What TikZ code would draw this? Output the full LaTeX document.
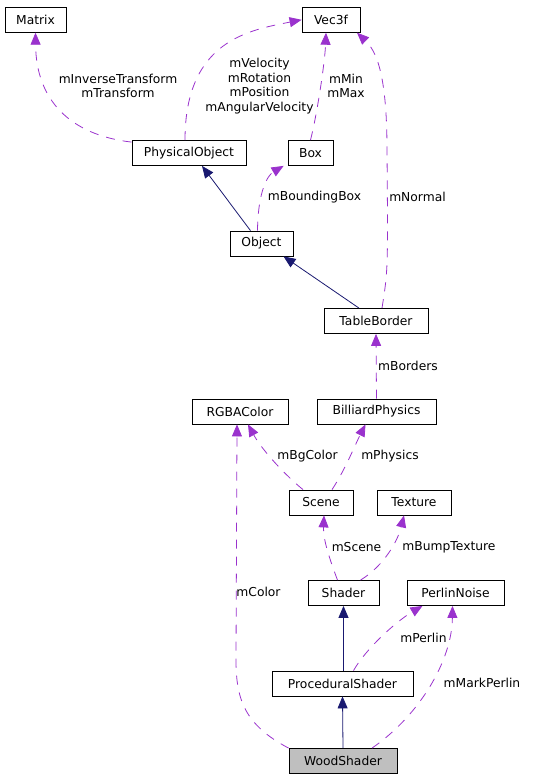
\documentclass[tikz,border=0pt]{standalone}
\usepackage{fontspec}
\setmainfont{DejaVu Sans}
\usetikzlibrary{arrows.meta}
\definecolor{usecolor}{HTML}{9A32CD}
\definecolor{inheritcolor}{HTML}{191970}

\begin{document}
\begin{tikzpicture}[
    x=1pt, y=-1pt,
    classnode/.style={rectangle, draw=black, fill=white, thick, minimum height=25pt, inner sep=0pt, font=\fontsize{12.3}{14}\selectfont},
    mainnode/.style={classnode, fill=black!25},
    uselink/.style={draw=usecolor, thick, dash pattern=on 9pt off 8pt, -{Triangle[length=12pt, width=10pt, fill=usecolor]}},
    inheritlink/.style={draw=inheritcolor, thick, -{Triangle[length=12pt, width=10pt, fill=inheritcolor]}},
    labelnode/.style={align=center, inner sep=0pt, font=\fontsize{12.3}{14.5}\selectfont},
    ]
      \useasboundingbox (0,0) rectangle (552,779);

      %Nodes
      \node      (Matrix)     [classnode, minimum width=61pt]   at (35.5,19.8)  {Matrix};
      \node      (Vec3f)      [classnode, minimum width=58pt]   at (331,19.8)   {Vec3f};
      \node      (PhysObj)    [classnode, minimum width=114pt]  at (189,153)    {PhysicalObject};
      \node      (Box)        [classnode, minimum width=45pt]   at (310.5,153)  {Box};
      \node      (Object)     [classnode, minimum width=63pt]   at (261.5,243.5) {Object};
      \node      (TableB)     [classnode, minimum width=104pt]  at (376,321)    {TableBorder};
      \node      (RGBA)       [classnode, minimum width=96pt]   at (240,411.5)  {RGBAColor};
      \node      (Billiard)   [classnode, minimum width=119pt]  at (376.5,411.5) {BilliardPhysics};
      \node      (Scene)      [classnode, minimum width=64pt]   at (321,502.5)  {Scene};
      \node      (Texture)    [classnode, minimum width=74pt]   at (414,502.5)  {Texture};
      \node      (Shader)     [classnode, minimum width=71pt]   at (343.5,593)  {Shader};
      \node      (Perlin)     [classnode, minimum width=97pt]   at (455.5,593)  {PerlinNoise};
      \node      (ProcShader) [classnode, minimum width=141pt]  at (342.5,683.5) {ProceduralShader};
      \node      (Wood)       [mainnode, minimum width=108pt]   at (343,761)    {WoodShader};

      %Lines
      \draw[uselink] ([yshift=-2pt]PhysObj.north west) .. controls (70,135) and (36,100) .. (Matrix.south);
      \draw[uselink] ([xshift=-4pt]PhysObj.north) .. controls (185,40) and (250,30) .. (Vec3f.west);
      \draw[uselink] (Box.north) .. controls (318,110) and (325,60) .. ([xshift=-5pt]Vec3f.south);
      \draw[uselink] ([xshift=6pt]TableB.north) .. controls (388,270) .. (387,150) .. controls (387,70) and (375,50) .. ([xshift=26pt]Vec3f.south);
      \draw[uselink] ([xshift=-4pt]Object.north) .. controls (258,190) and (268,175) .. ([xshift=-4pt]Box.south west);
      \draw[inheritlink] ([xshift=-11pt]Object.north) -- ([xshift=13pt]PhysObj.south);
      \draw[inheritlink] ([xshift=-17pt]TableB.north) -- ([xshift=22pt]Object.south);
      \draw[uselink] (Billiard.north) -- (TableB.south);
      \draw[uselink] ([xshift=-18pt]Scene.north) .. controls (285,475) and (262,450) .. ([xshift=8pt]RGBA.south);
      \draw[uselink] ([xshift=11pt]Scene.north) .. controls (345,470) and (355,445) .. ([xshift=-11pt]Billiard.south);
      \draw[uselink] ([xshift=-6pt]Shader.north) .. controls (330,560) and (323,540) .. ([xshift=3pt]Scene.south);
      \draw[uselink] ([xshift=17pt]Shader.north) .. controls (385,565) and (398,540) .. ([xshift=-10pt]Texture.south);
      \draw[inheritlink] ([xshift=1pt]ProcShader.north) -- (Shader.south);
      \draw[uselink] ([xshift=11pt]ProcShader.north) .. controls (365,650) and (395,622) .. ([xshift=-33pt]Perlin.south);
      \draw[inheritlink] (Wood.north) -- (ProcShader.south);
      \draw[uselink] (Wood.north west) .. controls (245,725) and (236,700) .. (236,660) -- ([xshift=-3pt]RGBA.south);
      \draw[uselink] ([xshift=29pt]Wood.north) .. controls (420,715) and (452,660) .. ([xshift=-3pt]Perlin.south);

      %Labels
      \node (lMatrix)   [labelnode] at (118,86)    {mInverseTransform\\mTransform};
      \node (lVec)      [labelnode] at (259.5,86)  {mVelocity\\mRotation\\mPosition\\mAngularVelocity};
      \node (lBox)      [labelnode] at (346,86)    {mMin\\mMax};
      \node (lBound)    [labelnode] at (314.5,197) {mBoundingBox};
      \node (lNormal)   [labelnode] at (417.5,197) {mNormal};
      \node (lBorders)  [labelnode] at (408,366)   {mBorders};
      \node (lBg)       [labelnode] at (307.5,456) {mBgColor};
      \node (lPhysics)  [labelnode] at (390,456)   {mPhysics};
      \node (lScene)    [labelnode] at (356.5,547) {mScene};
      \node (lBump)     [labelnode] at (449,547)   {mBumpTexture};
      \node (lColor)    [labelnode] at (258.5,592) {mColor};
      \node (lPerlin)   [labelnode] at (423.5,638) {mPerlin};
      \node (lMark)     [labelnode] at (482,683)   {mMarkPerlin};
    \end{tikzpicture}
\end{document}
